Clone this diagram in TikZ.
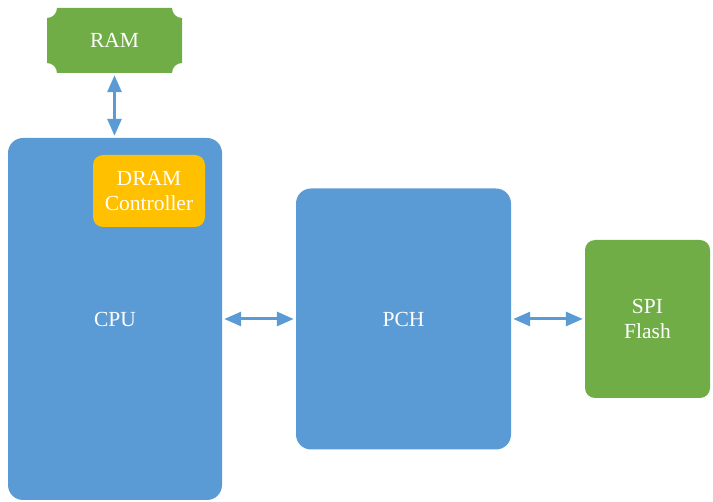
\documentclass[tikz,border=0pt]{standalone}
\usepackage{fontspec}
\setmainfont{Liberation Serif}
\usetikzlibrary{arrows.meta}
\definecolor{boxblue}{HTML}{5B9BD5}
\definecolor{boxgreen}{HTML}{70AD47}
\definecolor{boxgold}{HTML}{FFC000}
\tikzset{
  blk/.style={draw=none, rounded corners=15pt, text=white, align=center,
    font=\fontsize{21.5}{25.5}\selectfont, inner sep=0pt},
  link/.style={draw=boxblue, line width=3pt,
    {Triangle[length=17pt,width=14pt]}-{Triangle[length=17pt,width=14pt]},
    shorten <=2pt, shorten >=2pt}
}
\begin{document}
\begin{tikzpicture}[x=1pt, y=-1pt]
  \useasboundingbox (0,0) rectangle (713,502);

  % RAM: plaque with concave corners
  \fill[boxgreen] (57,8) -- (172,8) arc[start angle=180, end angle=90, radius=10]
    -- (182,63) arc[start angle=270, end angle=180, radius=10]
    -- (57,73) arc[start angle=360, end angle=270, radius=10]
    -- (47,18) arc[start angle=90, end angle=0, radius=10] -- cycle;
  \node[blk, minimum width=135pt, minimum height=65pt] (ram) at (114.5,40.5) {RAM};

  % CPU with its memory controller
  \node[blk, fill=boxblue, minimum width=214pt, minimum height=362pt] (cpu) at (115,319) {CPU};
  \node[blk, fill=boxgold, rounded corners=10pt, minimum width=112pt, minimum height=72pt]
    (dram) at (149,191) {DRAM\\Controller};

  % platform controller hub
  \node[blk, fill=boxblue, minimum width=215pt, minimum height=261pt] (pch) at (403.5,319) {PCH};

  % SPI flash
  \node[blk, fill=boxgreen, rounded corners=10pt, minimum width=125pt, minimum height=158pt]
    (spi) at (647.5,319) {SPI\\[-1pt]Flash};

  % buses
  \draw[link] (ram.south) -- (ram.south |- cpu.north);
  \draw[link] (cpu.east) -- (pch.west);
  \draw[link] (pch.east) -- (spi.west);
\end{tikzpicture}
\end{document}
